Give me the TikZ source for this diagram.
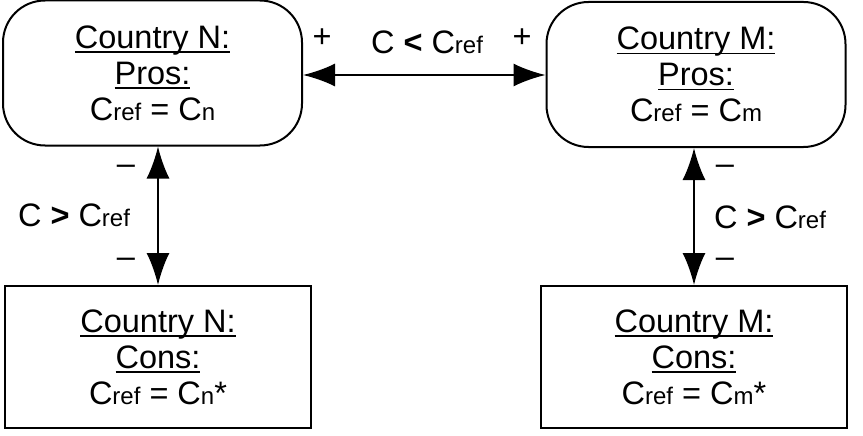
\documentclass[tikz,border=0pt]{standalone}
\usepackage{fontspec}
\setmainfont{Liberation Sans}
\usetikzlibrary{arrows.meta}

\newcommand{\undl}[1]{\setbox0\hbox{#1}\rlap{\rule[-4.5pt]{\wd0}{1.5pt}}\box0}
\newcommand{\sml}[1]{{\fontsize{24}{24}\selectfont #1}}

\begin{document}
\begin{tikzpicture}[x=1pt,y=-1pt,
  pros/.style={draw,line width=2pt,rounded corners=42pt,minimum width=299pt,minimum height=145pt,align=center,font=\fontsize{32.5}{36}\selectfont},
  cons/.style={draw,line width=2pt,minimum width=306pt,minimum height=142pt,align=center,font=\fontsize{32.5}{36}\selectfont},
  lbl/.style={font=\fontsize{32.5}{36}\selectfont,inner sep=0pt},
  link/.style={line width=2pt,{Latex[length=32pt,width=23pt]}-{Latex[length=32pt,width=23pt]}}]
\useasboundingbox (0,0) rectangle (863,436);
\node[pros] (prosN) at (152.5,73) {\undl{Country N:}\\\undl{Pros:}\\C\sml{ref} = C\sml{n}};
\node[pros] (prosM) at (696,74.5) {\undl{Country M:}\\\undl{Pros:}\\C\sml{ref} = C\sml{m}};
\node[cons] (consN) at (158,357) {\undl{Country N:}\\\undl{Cons:}\\C\sml{ref} = C\sml{n}*};
\node[cons] (consM) at (694,357) {\undl{Country M:}\\\undl{Cons:}\\C\sml{ref} = C\sml{m}*};
% labels
\node[lbl] (plus1) at (322,38) {+};
\node[lbl] (ltN) at (427,42) {C \textbf{<} C\sml{ref}};
\node[lbl] (plus2) at (522,38) {+};
\node[lbl] (minus1) at (126,170) {–};
\node[lbl] (gtN) at (74,215) {C \textbf{>} C\sml{ref}};
\node[lbl] (minus2) at (126,263) {–};
\node[lbl] (minus3) at (725,170) {–};
\node[lbl] (gtM) at (770,217) {C \textbf{>} C\sml{ref}};
\node[lbl] (minus4) at (725,263) {–};
% links
\draw[link] (prosN.east |- 0,75) -- (prosM.west |- 0,75);
\draw[link] (consN.north |- prosN.south) -- (consN.north);
\draw[link] (consM.north |- prosM.south) -- (consM.north);
\end{tikzpicture}
\end{document}
